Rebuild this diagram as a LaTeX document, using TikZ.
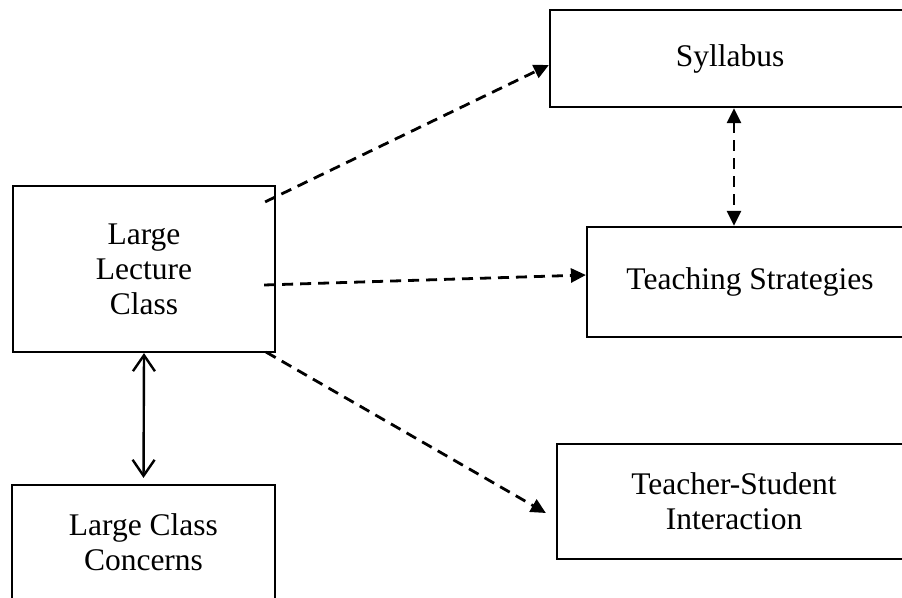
\documentclass[tikz,border=0pt]{standalone}
\usepackage{fontspec}
\setmainfont{Liberation Serif}
\usetikzlibrary{arrows.meta}
\begin{document}
\begin{tikzpicture}[x=1pt,y=-1pt,
  box/.style={draw,line width=2.2pt,rectangle,align=center,inner sep=0pt,
    font=\fontsize{31.5pt}{35pt}\selectfont},
  tipfill/.style={Triangle[length=15pt,width=14pt]},
  dashlink/.style={line width=2.8pt,dash pattern=on 11pt off 7pt,
    -{Triangle[length=15pt,width=14pt]}},
  dashboth/.style={line width=2.8pt,dash pattern=on 11pt off 7pt,
    {Triangle[length=15pt,width=14pt]}-{Triangle[length=15pt,width=14pt]}},
  solidboth/.style={line width=2.4pt,
    {Straight Barb[length=16pt,width=22pt,line width=2.4pt]}-{Straight Barb[length=16pt,width=22pt,line width=2.4pt]}}]
\useasboundingbox (0,0) rectangle (902,597);
\clip (0,0) rectangle (902,597);
\fill[white] (0,0) rectangle (902,597);

% boxes
\node[box,minimum width=262pt,minimum height=166pt] (llc) at (144,269) {Large\\Lecture\\Class};
\node[box,minimum width=360pt,minimum height=97pt] (syl) at (730,58.5) {Syllabus};
\node[box,minimum width=326pt,minimum height=110pt] (ts) at (750,282) {Teaching Strategies};
\node[box,minimum width=354pt,minimum height=115pt] (tsi) at (734,501.5) {Teacher-Student\\Interaction};
\node[box,minimum width=263pt,minimum height=115pt] (lcc) at (143.5,542.5) {Large Class\\Concerns};

% links from the lecture class
\draw[dashlink] ([shift={(-11,17)}]llc.north east) -- ([shift={(0,6.5)}]syl.west);
\draw[dashlink] ([shift={(-12,16)}]llc.east) -- ([shift={(0,-7)}]ts.west);
\draw[dashlink] ([shift={(-10,-1)}]llc.south east) -- ([shift={(-10,11.5)}]tsi.west);

% two-way links
\draw[dashboth] ([shift={(4,0)}]syl.south) -- ([shift={(-16,0)}]ts.north);
\draw[solidboth,shorten >=6pt] (llc.south) -- (lcc.north);
\end{tikzpicture}
\end{document}
